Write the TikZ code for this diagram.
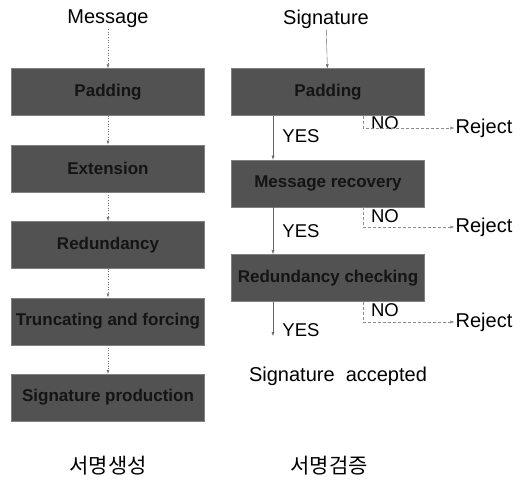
\documentclass[tikz,border=0pt]{standalone}
\usepackage{fontspec}
\setmainfont{Liberation Sans}
\newfontfamily\krfont{Noto Sans CJK KR}
\usetikzlibrary{positioning,arrows.meta}

\begin{document}
\begin{tikzpicture}[x=1pt, y=1pt,
        stage/.style={rectangle, fill=black!68, draw=black!50, minimum width=193pt, minimum height=47pt, inner sep=2pt, font=\fontsize{17}{20}\selectfont\bfseries, text=black!92},
        lbl/.style={font=\fontsize{20}{24}\selectfont, inner sep=1pt},
        ans/.style={font=\fontsize{18.5}{22}\selectfont, inner sep=1pt},
        kor/.style={font=\krfont\fontsize{21}{24}\selectfont, inner sep=1pt},
        flow/.style={draw=black!55, semithick, dotted, -{Latex[length=4pt, width=3pt]}},
        yes/.style={draw=black!60, thin, -{Latex[length=4pt, width=3pt]}},
        no/.style={draw=black!45, thin, densely dashed, -{Latex[length=4pt, width=3pt]}},
        node distance=29pt
    ]
    \useasboundingbox (0,0) rectangle (527,-483);

    % signature generation
    \node[lbl]    (msg)   at (108,-19)      {Message};
    \node[stage]  (g1)    at (108,-92)      {Padding};
    \node[stage]  (g2)    [below=of g1]     {Extension};
    \node[stage]  (g3)    [below=of g2]     {Redundancy};
    \node[stage]  (g4)    [below=of g3]     {Truncating and forcing};
    \node[stage]  (g5)    [below=of g4]     {Signature production};
    \node[kor]    (gen)   at (108,-466)     {서명생성};

    \draw[flow] (msg) -- (g1);
    \draw[flow] (g1) -- (g2);
    \draw[flow] (g2) -- (g3);
    \draw[flow] (g3) -- (g4);
    \draw[flow] (g4) -- (g5);

    % signature verification
    \node[lbl]    (sig)   at (326,-19)      {Signature};
    \node[stage]  (v1)    at (328,-92)      {Padding};
    \node[stage]  (v2)    [below=44pt of v1] {Message recovery};
    \node[stage]  (v3)    [below=47pt of v2] {Redundancy checking};
    \node[lbl]    (acc)   at (338,-376)     {Signature\ \ accepted};
    \node[kor]    (ver)   at (329,-466)     {서명검증};

    \coordinate (yx) at (273,0);
    \coordinate (nx) at (363,0);
    \coordinate (yend) at (273,-336);

    \node[ans]    (yes1)  at (301,-136)     {YES};
    \node[ans]    (yes2)  at (301,-231)     {YES};
    \node[ans]    (yes3)  at (301,-330)     {YES};
    \node[ans]    (no1)   at (385,-123)     {NO};
    \node[ans]    (no2)   at (385,-216)     {NO};
    \node[ans]    (no3)   at (385,-310)     {NO};
    \node[lbl]    (rej1)  at (484,-128)     {Reject};
    \node[lbl]    (rej2)  at (484,-227)     {Reject};
    \node[lbl]    (rej3)  at (484,-322)     {Reject};

    \draw[yes] (sig) -- (v1);
    \draw[yes] (v1.south -| yx) -- (v2.north -| yx);
    \draw[yes] (v2.south -| yx) -- (v3.north -| yx);
    \draw[yes] (v3.south -| yx) -- (yend);

    \draw[no] (v1.south -| nx) |- (rej1);
    \draw[no] (v2.south -| nx) |- (rej2);
    \draw[no] (v3.south -| nx) |- (rej3);
\end{tikzpicture}
\end{document}
